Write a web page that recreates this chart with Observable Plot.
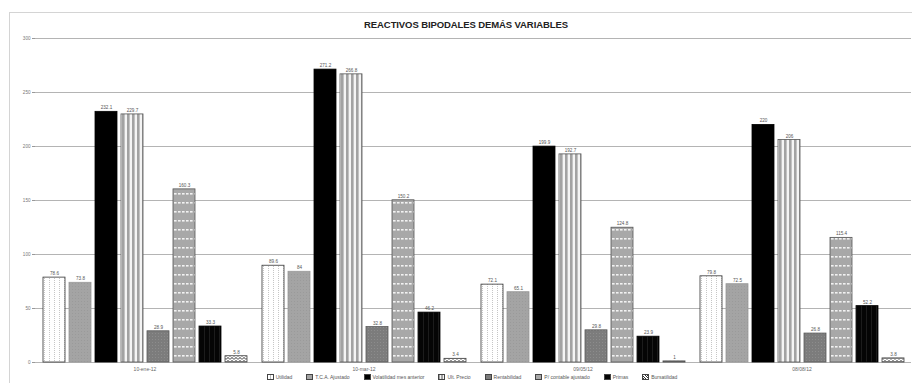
<!DOCTYPE html>
<html><head><meta charset="utf-8">
<script src="https://cdn.jsdelivr.net/npm/d3@7"></script>
<script src="https://cdn.jsdelivr.net/npm/@observablehq/plot@0.6"></script>
<style>
body{margin:0;background:#fff;font-family:"Liberation Sans",Arial,sans-serif;}
#wrap{position:relative;width:912px;height:383px;overflow:hidden;background:#fff}
#frame{position:absolute;left:9px;top:12px;width:910px;height:380px;border:1px solid #d4d4d4;box-sizing:border-box}
#title{position:absolute;left:0;width:932px;top:19px;text-align:center;font-weight:bold;font-size:9.5px;color:#222;letter-spacing:-0.1px}
#chart{position:absolute;left:0;top:0}
#legend{position:absolute;left:0;width:944px;top:374px;display:flex;justify-content:center;gap:14px;font-size:5px;color:#555;line-height:6px}
#legend .it{display:flex;align-items:center;gap:2px}
#legend .sw{display:inline-block;width:5px;height:4px;border:0.6px solid #444}
.s0{background:repeating-linear-gradient(90deg,#fff 0 2px,#bbb 2px 3px)}
.s1{background:#a4a4a4}
.s2{background:#000}
.s3{background:repeating-linear-gradient(90deg,#a2a2a2 0 1.3px,#f4f4f4 1.3px 2.5px)}
.s4{background:#7c7c7c}
.s5{background:repeating-linear-gradient(0deg,#a8a8a8 0 1.5px,#f2f2f2 1.5px 2.2px)}
.s6{background:#050505}
.s7{background:repeating-linear-gradient(45deg,#333 0 0.8px,#fff 0.8px 1.8px)}
</style></head><body>
<div id="wrap">
<svg width="0" height="0" style="position:absolute">
<defs>
<pattern id="p0" patternUnits="userSpaceOnUse" width="5" height="2"><rect width="5" height="2" fill="#fff"/><rect x="2" y="0" width="0.8" height="1" fill="#b8b8b8"/></pattern>
<pattern id="p1" patternUnits="userSpaceOnUse" width="3" height="3"><rect width="3" height="3" fill="#a4a4a4"/><rect x="1" y="1" width="1" height="1" fill="#9a9a9a"/></pattern>
<pattern id="p2" patternUnits="userSpaceOnUse" width="4" height="4"><rect width="4" height="4" fill="#000"/></pattern>
<pattern id="p3" patternUnits="userSpaceOnUse" width="5" height="4"><rect width="5" height="4" fill="#f4f4f4"/><rect x="0" y="0" width="2.6" height="4" fill="#a2a2a2"/></pattern>
<pattern id="p4" patternUnits="userSpaceOnUse" width="3" height="3"><rect width="3" height="3" fill="#7c7c7c"/><rect x="0" y="0" width="1" height="1" fill="#8c8c8c"/></pattern>
<pattern id="p5" patternUnits="userSpaceOnUse" width="4" height="9"><rect width="4" height="9" fill="#a8a8a8"/><rect x="0" y="4" width="2.6" height="1.6" fill="#f2f2f2"/></pattern>
<pattern id="p6" patternUnits="userSpaceOnUse" width="5" height="4"><rect width="5" height="4" fill="#050505"/><rect x="2" y="0" width="0.6" height="4" fill="#2a2a2a"/></pattern>
<pattern id="p7" patternUnits="userSpaceOnUse" width="4" height="3"><rect width="4" height="3" fill="#fff"/><polyline points="0,2.6 2,0.4 4,2.6" fill="none" stroke="#333" stroke-width="1"/></pattern>
</defs></svg>
<div id="frame"></div>
<div id="title">REACTIVOS BIPODALES DEMÁS VARIABLES</div>
<div id="chart"></div>
<div id="legend"></div>
</div>
<script>
const fechas = ["10-ene-12", "10-mar-12", "09/05/12", "08/08/12"];
const series = ["Utilidad", "T.C.A. Ajustado", "Volatilidad mes anterior", "Ult. Precio", "Rentabilidad", "P/ contable ajustado", "Primas", "Bursatilidad"];
const valores10ene = [78.6, 73.8, 232.1, 229.7, 28.9, 160.3, 33.3, 5.8];
const valores10mar = [89.6, 84, 271.2, 266.8, 32.8, 150.2, 46.2, 3.4];
const valores09may = [72.1, 65.1, 199.9, 192.7, 29.8, 124.8, 23.9, 1];
const valores08ago = [79.8, 72.5, 220, 206, 26.8, 115.4, 52.2, 3.8];
const yTicks = [0, 50, 100, 150, 200, 250, 300];

const porFecha = [valores10ene, valores10mar, valores09may, valores08ago];
const data = [];
fechas.forEach((f, gi) => series.forEach((s, si) => data.push({fecha: f, serie: s, valor: porFecha[gi][si]})));

const strokes = ["#333", "#9a9a9a", "#000", "#555", "#5a5a5a", "#555", "#000", "#444"];
const fmt = v => Number.isInteger(v) ? String(v) : v.toFixed(1);

const marks = [
  Plot.ruleY(yTicks, {stroke: "#b4b4b4", strokeWidth: 1}),
  ...series.map((s, i) => Plot.barY(data.filter(d => d.serie === s), {
    fx: "fecha", x: "serie", y: "valor", fill: `url(#p${i})`, stroke: strokes[i], strokeWidth: 0.8
  })),
  Plot.text(data, {fx: "fecha", x: "serie", y: "valor", text: d => fmt(d.valor), dy: -4, fontSize: 4.6, fill: "#555"}),
  Plot.axisY(yTicks, {fontSize: 4.6, tickSize: 3, tickPadding: 2, stroke: "#999", color: "#777", label: null})
];

const chart = Plot.plot({
  width: 912,
  height: 383,
  marginLeft: 33,
  marginRight: 0,
  marginTop: 38,
  marginBottom: 21,
  style: {background: "transparent", fontFamily: "Liberation Sans, Arial, sans-serif"},
  fx: {domain: fechas, padding: 0, label: null, tickSize: 0, tickPadding: 5},
  x: {domain: series, axis: null, paddingInner: 0.16, paddingOuter: 0.28},
  y: {domain: [0, 300], axis: null},
  marks
});
chart.querySelectorAll('g[aria-label="fx-axis tick label"]').forEach(e => { e.setAttribute("font-size", "5"); e.style.fontSize = "5px"; e.setAttribute("fill", "#666"); });
document.getElementById("chart").appendChild(chart);

const legend = document.getElementById("legend");
series.forEach((s, i) => {
  const it = document.createElement("div");
  it.className = "it";
  it.innerHTML = `<span class="sw s${i}"></span><span>${s}</span>`;
  legend.appendChild(it);
});
</script>
</body></html>
